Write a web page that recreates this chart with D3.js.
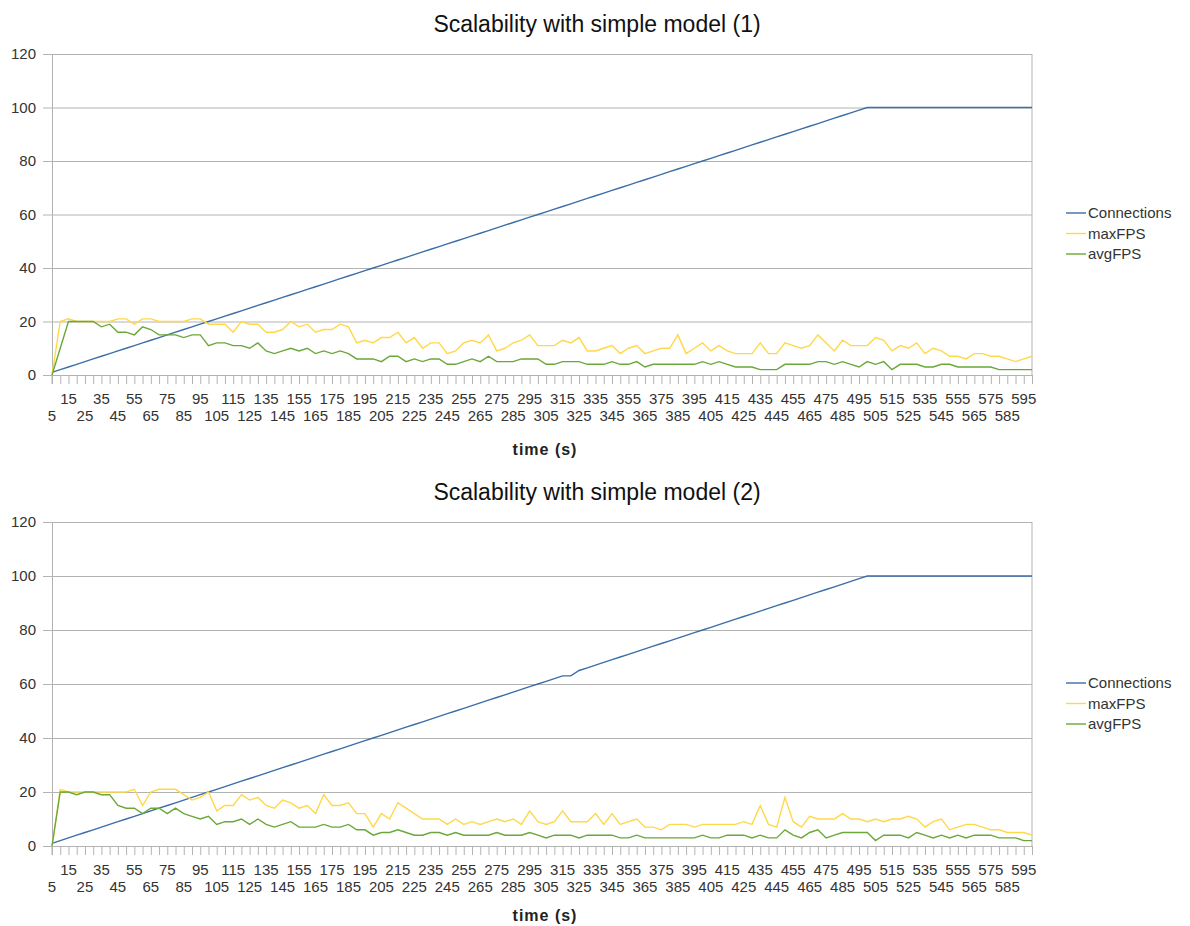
<!DOCTYPE html>
<html><head><meta charset="utf-8">
<script src="https://cdn.jsdelivr.net/npm/d3@7"></script>
<style>body{margin:0;background:#fff;} svg{display:block;} text{font-family:"Liberation Sans",Arial,sans-serif;}</style>
</head><body>
<svg id="c" width="1190" height="926"></svg>
<script>
const times = [5,10,15,20,25,30,35,40,45,50,55,60,65,70,75,80,85,90,95,100,105,110,115,120,125,130,135,140,145,150,155,160,165,170,175,180,185,190,195,200,205,210,215,220,225,230,235,240,245,250,255,260,265,270,275,280,285,290,295,300,305,310,315,320,325,330,335,340,345,350,355,360,365,370,375,380,385,390,395,400,405,410,415,420,425,430,435,440,445,450,455,460,465,470,475,480,485,490,495,500,505,510,515,520,525,530,535,540,545,550,555,560,565,570,575,580,585,590,595,600];
const tickLabels = [5,15,25,35,45,55,65,75,85,95,105,115,125,135,145,155,165,175,185,195,205,215,225,235,245,255,265,275,285,295,305,315,325,335,345,355,365,375,385,395,405,415,425,435,445,455,465,475,485,495,505,515,525,535,545,555,565,575,585,595];
const yTicks = [0,20,40,60,80,100,120];
const seriesNames = ["Connections","maxFPS","avgFPS"];
const titles = ["Scalability with simple model (1)","Scalability with simple model (2)"];

const connections1 = [1,2,3,4,5,6,7,8,9,10,11,12,13,14,15,16,17,18,19,20,21,22,23,24,25,26,27,28,29,30,31,32,33,34,35,36,37,38,39,40,41,42,43,44,45,46,47,48,49,50,51,52,53,54,55,56,57,58,59,60,61,62,63,64,65,66,67,68,69,70,71,72,73,74,75,76,77,78,79,80,81,82,83,84,85,86,87,88,89,90,91,92,93,94,95,96,97,98,99,100,100,100,100,100,100,100,100,100,100,100,100,100,100,100,100,100,100,100,100,100];
const maxFPS1 = [0,20,21,20,20,20,20,20,21,21, 19,21,21,20,20,20,20,21,21,19, 19,19,16,20,19,19,16,16,17,20, 18,19,16,17,17,19,18,12,13,12, 14,14,16,12,14,10,12,12,8,9, 12,13,12,15,9,10,12,13,15,11, 11,11,13,12,14,9,9,10,11,8, 10,11,8,9,10,10,15,8,10,12, 9,11,9,8,8,8,12,8,8,12, 11,10,11,15,12,9,13,11,11,11, 14,13,9,11,10,12,8,10,9,7, 7,6,8,8,7,7,6,5,6,7];
const avgFPS1 = [0,10,20,20,20,20,18,19,16,16, 15,18,17,15,15,15,14,15,15,11, 12,12,11,11,10,12,9,8,9,10, 9,10,8,9,8,9,8,6,6,6, 5,7,7,5,6,5,6,6,4,4, 5,6,5,7,5,5,5,6,6,6, 4,4,5,5,5,4,4,4,5,4, 4,5,3,4,4,4,4,4,4,5, 4,5,4,3,3,3,2,2,2,4, 4,4,4,5,5,4,5,4,3,5, 4,5,2,4,4,4,3,3,4,4, 3,3,3,3,3,2,2,2,2,2];

const connections2 = [1,2,3,4,5,6,7,8,9,10,11,12,13,14,15,16,17,18,19,20,21,22,23,24,25,26,27,28,29,30,31,32,33,34,35,36,37,38,39,40,41,42,43,44,45,46,47,48,49,50,51,52,53,54,55,56,57,58,59,60,61,62,63,63,65,66,67,68,69,70,71,72,73,74,75,76,77,78,79,80,81,82,83,84,85,86,87,88,89,90,91,92,93,94,95,96,97,98,99,100,100,100,100,100,100,100,100,100,100,100,100,100,100,100,100,100,100,100,100,100];
const maxFPS2 = [0,21,20,20,20,20,20,20,20,20, 21,15,20,21,21,21,19,17,18,20, 13,15,15,19,17,18,15,14,17,16, 14,15,12,19,15,15,16,12,12,7, 12,10,16,14,12,10,10,10,8,10, 8,9,8,9,10,9,10,8,13,9, 8,9,13,9,9,9,12,8,12,8, 9,10,7,7,6,8,8,8,7,8, 8,8,8,8,9,8,15,8,7,18, 9,7,11,10,10,10,12,10,10,9, 10,9,10,10,11,10,7,9,10,6, 7,8,8,7,6,6,5,5,5,4];
const avgFPS2 = [0,20,20,19,20,20,19,19,15,14, 14,12,14,14,12,14,12,11,10,11, 8,9,9,10,8,10,8,7,8,9, 7,7,7,8,7,7,8,6,6,4, 5,5,6,5,4,4,5,5,4,5, 4,4,4,4,5,4,4,4,5,4, 3,4,4,4,3,4,4,4,4,3, 3,4,3,3,3,3,3,3,3,4, 3,3,4,4,4,3,4,3,3,6, 4,3,5,6,3,4,5,5,5,5, 2,4,4,4,3,5,4,3,4,3, 4,3,4,4,4,3,3,3,2,2];

const colors = ["#3a6ea8","#ffd84a","#6aa83a"];
const charts = [
  {title: titles[0], series:[connections1,maxFPS1,avgFPS1], off:0, y0:375, y1:54, xt:80, lg:213},
  {title: titles[1], series:[connections2,maxFPS2,avgFPS2], off:468, y0:846, y1:522, xt:75, lg:683}
];

const svg = d3.select("#c");
const left = 52, right = 1032;
const x = d3.scalePoint().domain(times).range([left, right]);

charts.forEach(ch => {
  const g = svg.append("g");
  const y = d3.scaleLinear().domain([0,120]).range([ch.y0, ch.y1]);
  g.append("g").attr("transform",`translate(${left},0)`)
    .call(d3.axisLeft(y).tickValues(yTicks).tickSize(-(right-left)).tickFormat(""))
    .call(s=>{s.select(".domain").remove(); s.selectAll("line").attr("stroke","#b3b3b3");});
  g.append("g").attr("transform",`translate(${left},0)`)
    .call(d3.axisLeft(y).tickValues(yTicks).tickSize(9).tickSizeOuter(0).tickPadding(7))
    .call(s=>{
      s.select(".domain").attr("stroke","#b3b3b3");
      s.selectAll("line").attr("stroke","#b3b3b3");
      s.selectAll("text").attr("fill","#333").style("font-size","15px").style("font-family","Liberation Sans, Arial, sans-serif");
    });
  g.append("line").attr("x1",right).attr("x2",right).attr("y1",y(120)).attr("y2",y(0)).attr("stroke","#b3b3b3");
  g.append("g").attr("transform",`translate(0,${ch.y0})`)
    .call(d3.axisBottom(x).tickSize(9).tickSizeOuter(0).tickFormat(""))
    .call(s=>{s.selectAll("line").attr("stroke","#b3b3b3"); s.select(".domain").attr("stroke","#b3b3b3");});
  g.append("line").attr("x1",left).attr("x2",left).attr("y1",ch.y0).attr("y2",ch.y0+9).attr("stroke","#b3b3b3");
  g.selectAll(".xl").data(tickLabels).join("text")
    .attr("x", d=>x(d)).attr("y",(d,i)=> ch.y0 + (i%2===1 ? 29 : 46))
    .attr("text-anchor","middle").attr("fill","#333").style("font-size","15px")
    .text(d=>d);
  ch.series.forEach((vals,si)=>{
    const line = d3.line().x((d,i)=>x(times[i])).y(d=>y(d));
    g.append("path").datum(vals).attr("d",line).attr("fill","none")
      .attr("stroke",colors[si]).attr("stroke-width",1.4);
  });
  g.append("text").attr("x",597).attr("y",ch.off+32).attr("text-anchor","middle")
    .attr("fill","#111").style("font-size","23px").text(ch.title);
  g.append("text").attr("x",545).attr("y",ch.y0+ch.xt).attr("text-anchor","middle")
    .attr("fill","#222").style("font-size","16px").style("font-weight","bold")
    .style("letter-spacing","1px").text("time (s)");
  const lg = g.append("g").attr("transform",`translate(1066,${ch.lg})`);
  seriesNames.forEach((n,i)=>{
    lg.append("line").attr("x1",0).attr("x2",20).attr("y1",i*20.5).attr("y2",i*20.5).attr("stroke",colors[i]).attr("stroke-width",1.4);
    lg.append("text").attr("x",22).attr("y",i*20.5+5).attr("fill","#333").style("font-size","15px").text(n);
  });
});
</script>
</body></html>
